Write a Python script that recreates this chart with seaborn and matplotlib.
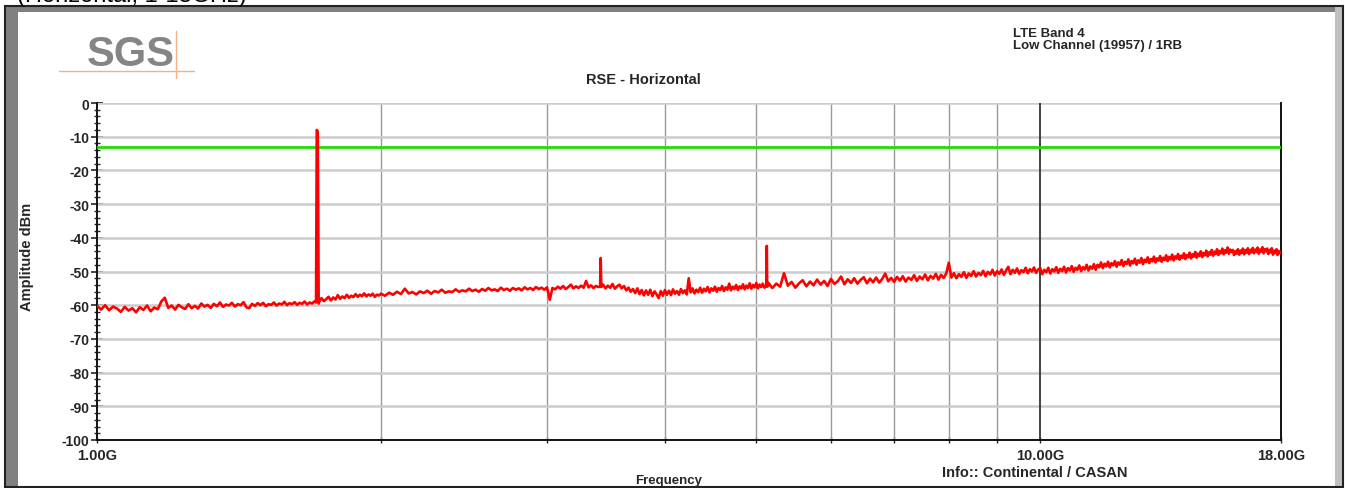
import numpy as np
import pandas as pd
import matplotlib
matplotlib.use("Agg")
import matplotlib.pyplot as plt
from matplotlib.ticker import FixedLocator, NullFormatter
from matplotlib.patches import Rectangle
from matplotlib.lines import Line2D
import seaborn as sns

# ---------------- data (frequency in MHz, level in dBm) ----------------
seg1_f = [1000, 1010, 1020, 1030, 1040, 1050, 1060, 1070, 1080, 1090,
          1100, 1110, 1120, 1130, 1140, 1150, 1160, 1170, 1180, 1190,
          1200, 1210, 1220, 1230, 1240, 1250, 1260, 1270, 1280, 1290,
          1300, 1310, 1320, 1330, 1340, 1350, 1360, 1370, 1380, 1390,
          1400, 1410, 1420, 1430, 1440, 1450, 1460, 1470, 1480, 1490,
          1500, 1510, 1520, 1530, 1540, 1550, 1560, 1570, 1580, 1590,
          1600, 1610, 1620, 1630, 1640, 1650, 1660, 1670, 1680, 1690, 1700]
seg1_db = [-60.2, -61.3, -60.0, -61.5, -60.4, -61.0, -62.0, -60.5, -61.6, -60.9,
           -62.1, -60.6, -61.4, -60.1, -61.8, -60.7, -61.2, -58.9, -57.8, -60.8,
           -60.1, -61.3, -59.9, -60.6, -61.1, -59.7, -60.9, -60.2, -61.0, -59.5,
           -60.4, -59.9, -60.8, -59.6, -60.3, -59.2, -60.5, -59.8, -60.1, -59.3,
           -60.4, -59.7, -60.0, -59.1, -60.6, -60.9, -59.6, -60.2, -59.4, -60.0,
           -59.3, -60.3, -59.7, -59.9, -59.2, -60.1, -59.5, -59.8, -59.0, -60.0,
           -59.4, -59.7, -59.1, -59.9, -59.3, -59.6, -58.9, -59.8, -59.2, -59.5, -58.9]

spike1_f = [1707, 1710, 1714, 1718]
spike1_db = [-59.2, -8.0, -8.5, -59.5]

seg2_f = [1720, 1730, 1740, 1750, 1760, 1770, 1780, 1790, 1800, 1810,
          1820, 1830, 1840, 1850, 1860, 1870, 1880, 1890, 1900, 1910,
          1920, 1930, 1940, 1950, 1960, 1970, 1980, 1990]
seg2_db = [-59.0, -57.9, -58.8, -58.2, -57.5, -58.6, -57.7, -58.3, -57.0, -58.1,
           -57.4, -57.9, -56.9, -57.8, -57.2, -57.6, -56.7, -57.5, -56.9, -57.3,
           -56.5, -57.4, -56.8, -57.2, -56.6, -57.5, -56.9, -57.1]

seg3_f = [2000, 2020, 2040, 2060, 2080, 2100, 2120, 2140, 2160, 2180,
          2200, 2220, 2240, 2260, 2280, 2300, 2320, 2340, 2360, 2380,
          2400, 2420, 2440, 2460, 2480, 2500, 2520, 2540, 2560, 2580,
          2600, 2620, 2640, 2660, 2680, 2700, 2720, 2740, 2760, 2780,
          2800, 2820, 2840, 2860, 2880, 2900, 2920, 2940, 2960, 2980,
          3000, 3020, 3040, 3060, 3080, 3100, 3120, 3140, 3160, 3180,
          3200, 3220, 3240, 3260, 3280, 3300, 3320, 3340, 3360, 3380, 3400]
seg3_db = [-56.6, -57.2, -56.3, -56.9, -56.0, -56.7, -55.1, -56.5, -56.1, -56.8,
           -55.9, -56.4, -55.7, -56.6, -55.8, -56.2, -55.4, -56.3, -55.9, -56.1,
           -55.3, -56.0, -55.6, -55.9, -55.1, -55.8, -55.4, -56.0, -55.2, -55.7,
           -54.9, -55.6, -55.3, -55.8, -54.8, -55.5, -55.1, -55.7, -54.9, -55.4,
           -55.0, -55.6, -54.7, -55.3, -54.9, -55.5, -54.6, -55.2, -54.8, -55.4,
           -54.7, -58.4, -54.9, -55.3, -54.5, -55.1, -54.3, -55.2, -54.6, -53.9,
           -55.0, -54.4, -54.9, -54.2, -54.8, -52.8, -54.7, -54.1, -54.9, -54.3, -54.6]

spike2_f = [3415, 3420, 3425]
spike2_db = [-54.5, -46.0, -54.6]

seg4_f = [3440, 3460, 3480, 3500, 3520, 3540, 3560, 3580, 3600, 3620,
          3640, 3660, 3680, 3700, 3720, 3740, 3760, 3780, 3800, 3820,
          3840, 3860, 3880, 3900, 3920, 3940, 3960, 3980, 4000, 4020,
          4040, 4060, 4080, 4100, 4120, 4140, 4160, 4180, 4200, 4220,
          4240, 4260, 4280, 4300, 4320, 4340, 4360, 4380, 4400, 4420,
          4440, 4460, 4480, 4500, 4520, 4540, 4560, 4580, 4600, 4620,
          4640, 4660, 4680, 4700, 4720, 4740, 4760, 4780, 4800, 4820,
          4840, 4860, 4880, 4900, 4920, 4940, 4960, 4980, 5000, 5020,
          5040, 5060, 5080, 5100]
seg4_db = [-53.9, -55.0, -54.2, -54.8, -53.7, -55.1, -54.4, -53.9, -55.0, -54.3,
           -55.6, -54.8, -56.0, -55.2, -56.4, -55.0, -56.7, -55.5, -57.1, -55.6,
           -56.9, -55.4, -57.3, -55.9, -56.8, -57.9, -55.8, -57.2, -55.5, -56.9,
           -55.7, -57.0, -55.3, -56.6, -55.8, -56.9, -55.2, -56.4, -55.6, -56.8,
           -52.0, -56.2, -55.0, -56.5, -55.4, -56.1, -54.8, -56.3, -55.1, -55.9,
           -54.6, -56.2, -55.0, -55.7, -54.5, -56.0, -54.9, -55.5, -54.3, -55.8,
           -54.7, -55.4, -53.6, -55.6, -54.5, -55.2, -54.0, -55.5, -54.4, -55.0,
           -53.8, -55.3, -54.2, -54.9, -53.5, -55.1, -54.0, -54.7, -53.4, -55.0,
           -53.9, -54.6, -53.6, -54.8]

spike3_f = [5125, 5130, 5135]
spike3_db = [-54.0, -42.4, -54.5]

seg5_f = [5150, 5200, 5250, 5300, 5350, 5400, 5450, 5500, 5550, 5600,
          5650, 5700, 5750, 5800, 5850, 5900, 5950, 6000, 6050, 6100,
          6150, 6200, 6250, 6300, 6350, 6400, 6450, 6500, 6550, 6600,
          6650, 6700, 6750, 6800, 6850, 6900, 6950, 7000, 7050, 7100,
          7150, 7200, 7250, 7300, 7350, 7400, 7450, 7500, 7550, 7600,
          7650, 7700, 7750, 7800, 7850, 7900, 7950, 8000, 8050, 8100,
          8150, 8200, 8250, 8300, 8350, 8400, 8450, 8500, 8550, 8600,
          8650, 8700, 8750, 8800, 8850, 8900, 8950, 9000, 9050, 9100,
          9150, 9200, 9250, 9300, 9350, 9400, 9450, 9500, 9550, 9600,
          9650, 9700, 9750, 9800, 9850, 9900, 9950]
seg5_db = [-53.4, -54.9, -53.6, -54.5, -50.5, -54.2, -53.1, -54.8, -53.5, -52.6,
           -54.4, -53.0, -54.1, -52.4, -53.9, -52.8, -54.3, -52.2, -53.7, -52.9,
           -51.5, -53.8, -52.3, -53.4, -52.0, -53.6, -52.5, -51.7, -53.5, -52.1,
           -53.2, -51.8, -53.3, -52.2, -50.6, -52.9, -51.9, -53.1, -51.6, -52.7,
           -51.4, -53.0, -51.8, -52.5, -51.1, -52.8, -51.5, -52.3, -50.9, -52.6,
           -51.3, -52.1, -50.7, -52.4, -51.0, -51.9, -50.6, -47.4, -51.8, -50.5,
           -52.0, -50.8, -51.6, -50.2, -51.9, -50.6, -51.3, -49.9, -51.5, -50.4,
           -51.1, -49.8, -51.4, -50.1, -50.9, -49.5, -51.2, -49.9, -50.7, -49.4,
           -51.0, -49.7, -48.6, -50.8, -49.5, -50.4, -49.1, -50.7, -49.6, -50.2,
           -48.9, -50.5, -49.3, -50.0, -48.8, -50.4, -49.4]

seg6_f = [10000, 10050, 10100, 10150, 10200, 10250, 10300, 10350, 10400, 10450,
          10500, 10550, 10600, 10650, 10700, 10750, 10800, 10850, 10900, 10950,
          11000, 11050, 11100, 11150, 11200, 11250, 11300, 11350, 11400, 11450,
          11500, 11550, 11600, 11650, 11700, 11750, 11800, 11850, 11900, 11950,
          12000, 12050, 12100, 12150, 12200, 12250, 12300, 12350, 12400, 12450,
          12500, 12550, 12600, 12650, 12700, 12750, 12800, 12850, 12900, 12950,
          13000, 13050, 13100, 13150, 13200, 13250, 13300, 13350, 13400, 13450,
          13500, 13550, 13600, 13650, 13700, 13750, 13800, 13850, 13900, 13950,
          14000, 14050, 14100, 14150, 14200, 14250, 14300, 14350, 14400, 14450,
          14500, 14550, 14600, 14650, 14700, 14750, 14800, 14850, 14900, 14950,
          15000, 15050, 15100, 15150, 15200, 15250, 15300, 15350, 15400, 15450,
          15500, 15550, 15600, 15650, 15700, 15750, 15800, 15850, 15900, 15950,
          16000, 16050, 16100, 16150, 16200, 16250, 16300, 16350, 16400, 16450,
          16500, 16550, 16600, 16650, 16700, 16750, 16800, 16850, 16900, 16950,
          17000, 17050, 17100, 17150, 17200, 17250, 17300, 17350, 17400, 17450,
          17500, 17550, 17600, 17650, 17700, 17750, 17800, 17850, 17900, 17950,
          18000]
seg6_db = [-49.0, -50.8, -49.5, -50.2, -48.9, -50.6, -49.3, -50.0, -48.7, -50.4,
           -49.2, -49.9, -48.6, -50.3, -49.0, -49.7, -48.4, -50.1, -48.9, -49.5,
           -48.2, -49.9, -48.7, -49.4, -48.0, -49.7, -48.5, -49.2, -47.8, -49.5,
           -48.0, -48.8, -47.3, -49.0, -47.7, -48.5, -47.1, -48.8, -47.5, -48.2,
           -46.9, -48.6, -47.3, -48.0, -46.6, -48.4, -47.1, -47.8, -46.4, -48.2,
           -46.9, -47.6, -46.2, -48.0, -46.7, -47.4, -46.0, -47.8, -46.5, -47.2,
           -45.8, -47.5, -46.3, -47.0, -45.6, -47.3, -46.1, -46.8, -45.4, -47.1,
           -45.9, -46.6, -45.2, -46.9, -45.7, -46.4, -45.0, -46.7, -45.5, -46.2,
           -44.8, -46.5, -45.3, -46.0, -44.6, -46.3, -45.1, -45.8, -44.4, -46.1,
           -44.9, -45.6, -44.2, -45.9, -44.7, -45.4, -44.0, -45.7, -44.5, -45.2,
           -43.8, -45.5, -44.3, -45.0, -43.6, -45.3, -44.1, -44.8, -43.4, -45.1,
           -43.9, -44.6, -43.2, -44.9, -43.7, -44.4, -42.9, -44.7, -43.5, -44.2,
           -43.6, -45.1, -44.0, -44.7, -43.4, -45.0, -43.8, -44.5, -43.2, -44.9,
           -43.7, -44.4, -43.1, -44.8, -43.6, -44.3, -43.0, -44.6, -43.5, -44.2,
           -42.9, -44.7, -43.5, -44.1, -42.8, -44.6, -43.4, -44.0, -43.2, -44.8,
           -43.6, -44.3, -43.1, -45.0, -43.8, -44.5, -43.4, -45.1, -43.9, -44.6,
           -44.2]

limit_dbm = -13.0
x_major_ticks = [1.0, 10.0, 18.0]          # GHz
x_major_labels = ["1.00G", "10.00G", "18.00G"]
x_minor_ticks = [2, 3, 4, 5, 6, 7, 8, 9]   # GHz
y_major_ticks = [0, -10, -20, -30, -40, -50, -60, -70, -80, -90, -100]

freq_mhz = (seg1_f + spike1_f + seg2_f + seg3_f + spike2_f + seg4_f + spike3_f + seg5_f + seg6_f)
level = (seg1_db + spike1_db + seg2_db + seg3_db + spike2_db + seg4_db + spike3_db + seg5_db + seg6_db)
df = pd.DataFrame({"freq": np.array(freq_mhz) / 1000.0, "level": level})

# ---------------- figure ----------------
sns.set_style("white")
plt.rcParams["font.family"] = ["Liberation Sans", "DejaVu Sans"]
plt.rcParams["font.weight"] = "bold"
plt.rcParams["axes.unicode_minus"] = False

W, H = 1345, 489
fig = plt.figure(figsize=(W / 100, H / 100), dpi=100)
fig.patch.set_facecolor("white")

def fx(px):
    return px / W

def fy(py):
    return 1 - py / H

# frame decorations
fig.add_artist(Rectangle((fx(6), fy(487)), fx(12), (487 - 8) / H, transform=fig.transFigure,
                         facecolor="#808080", edgecolor="none", zorder=0))
fig.add_artist(Rectangle((fx(6), fy(13)), fx(1330), 5 / H, transform=fig.transFigure,
                         facecolor="#808080", edgecolor="none", zorder=0))
fig.add_artist(Rectangle((fx(1335), fy(487)), fx(8), (487 - 8) / H, transform=fig.transFigure,
                         facecolor="#c0c0c0", edgecolor="none", zorder=0))
fig.add_artist(Rectangle((fx(5), fy(487.5)), fx(1338), (487.5 - 7) / H, transform=fig.transFigure,
                         facecolor="none", edgecolor="#222222", linewidth=1.5, zorder=1))

fig.text(fx(17), fy(2), "(Horizontal, 1-18GHz)", fontsize=17, fontweight="normal",
         ha="left", va="baseline", color="black")

# SGS logo
fig.text(fx(131), fy(55), "SGS", fontsize=30, fontweight="bold", color="#858585",
         ha="center", va="center")
fig.add_artist(Line2D([fx(59), fx(194)], [fy(72), fy(72)], transform=fig.transFigure,
                      color="#f5b183", linewidth=1))
fig.add_artist(Line2D([fx(176), fx(176)], [fy(32), fy(79)], transform=fig.transFigure,
                      color="#f5b183", linewidth=1))

fig.text(fx(1013), fy(34), "LTE Band 4", fontsize=9.5, ha="left", va="center")
fig.text(fx(1013), fy(46), "Low Channel (19957) / 1RB", fontsize=9.5, ha="left", va="center")
fig.text(fx(643), fy(80), "RSE - Horizontal", fontsize=10.5, ha="center", va="center")

ax = fig.add_axes([fx(97), fy(441), (1281 - 97) / W, (441 - 104) / H])
ax.set_facecolor("white")

sns.lineplot(data=df, x="freq", y="level", ax=ax, color="#ff0000", linewidth=1.9,
             estimator=None, sort=False, zorder=5)
ax.axhline(limit_dbm, color="#22dd00", linewidth=2, zorder=4)

ax.set_xscale("log")
ax.set_xlim(1.0, 18.0)
ax.set_ylim(-100, 0)

ax.xaxis.set_major_locator(FixedLocator(x_major_ticks))
ax.xaxis.set_minor_locator(FixedLocator(x_minor_ticks))
ax.xaxis.set_minor_formatter(NullFormatter())
ax.set_xticklabels(x_major_labels)
ax.yaxis.set_major_locator(FixedLocator(y_major_ticks))
ax.yaxis.set_minor_locator(FixedLocator(list(range(-100, 1, 2))))

for t in x_minor_ticks:
    ax.axvline(t, color="#999999", linewidth=1, zorder=1)
ax.axvline(10.0, color="#333333", linewidth=1.3, zorder=2)
for t in y_major_ticks:
    ax.axhline(t, color="#cccccc", linewidth=1.8, zorder=1)

ax.tick_params(axis="y", which="major", direction="inout", length=9, width=1.2,
               labelsize=10, pad=1, left=True)
ax.tick_params(axis="y", which="minor", direction="inout", length=5, width=1, left=True)
ax.tick_params(axis="x", which="major", direction="inout", length=4, width=1,
               labelsize=10.5, pad=4, bottom=True)
ax.tick_params(axis="x", which="minor", direction="inout", length=4, width=1, bottom=True)

for side in ["left", "bottom", "right"]:
    ax.spines[side].set_visible(True)
    ax.spines[side].set_color("#111111")
    ax.spines[side].set_linewidth(1.4)
ax.spines["top"].set_visible(False)

ax.set_xlabel("")
ax.set_ylabel("")
fig.text(fx(27), fy(257), "Amplitude dBm", rotation=90, fontsize=10.5, ha="center", va="center")
fig.text(fx(669), fy(481), "Frequency", fontsize=9.5, ha="center", va="center")
fig.text(fx(1035), fy(473), "Info:: Continental / CASAN", fontsize=10.5, ha="center", va="center")

fig.savefig("out.png", dpi=100, facecolor="white")
